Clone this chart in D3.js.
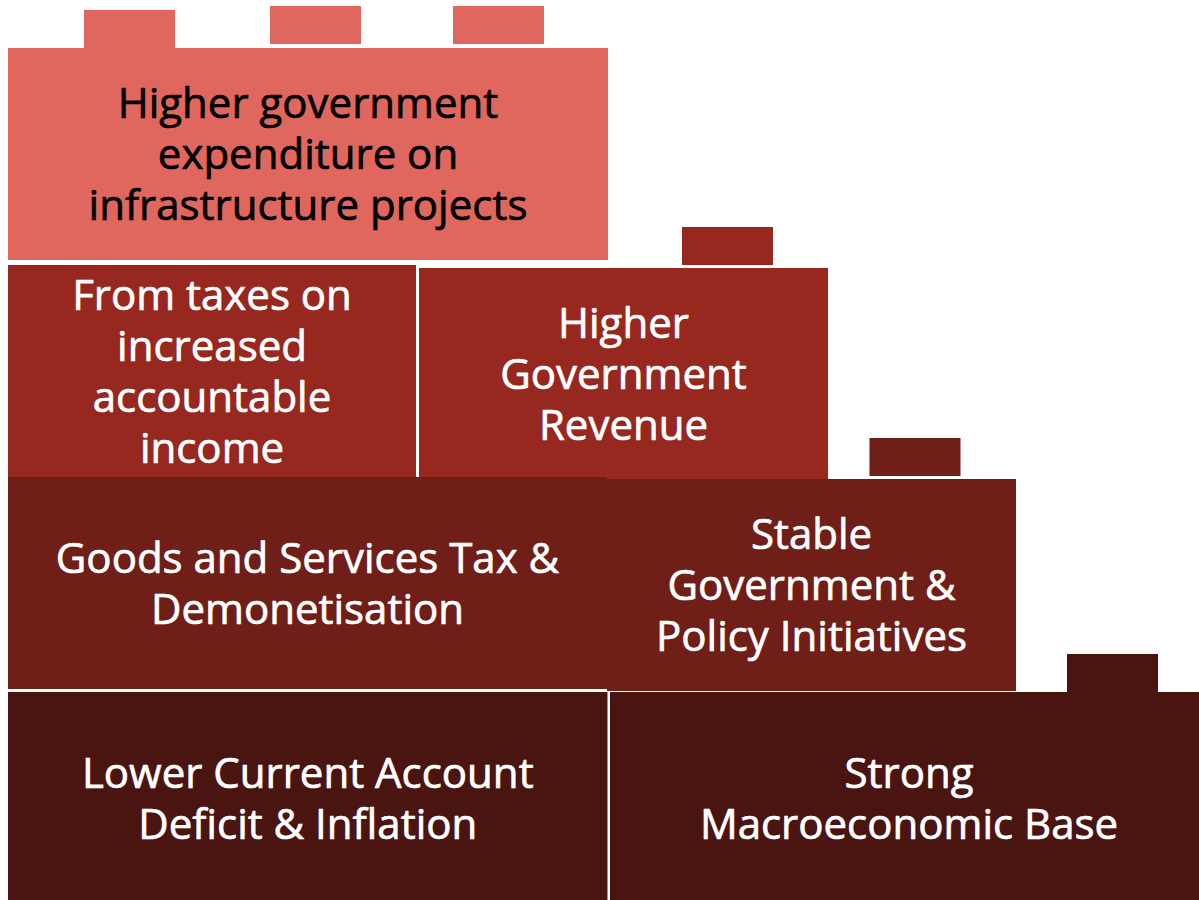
<!DOCTYPE html>
<html>
<head>
<meta charset="utf-8">
<script src="https://cdn.jsdelivr.net/npm/d3@7"></script>
<style>
  html, body { margin: 0; padding: 0; background: #ffffff; }
  svg { display: block; }
</style>
</head>
<body>
<svg id="chart" width="1199" height="900"></svg>
<script>
// Brick-wall diagram: each brick is a driver, stacked from the base upward.
const brickLabels = [
  ["Higher government", "expenditure on", "infrastructure projects"],
  ["From taxes on", "increased", "accountable", "income"],
  ["Higher", "Government", "Revenue"],
  ["Goods and Services Tax &", "Demonetisation"],
  ["Stable", "Government &", "Policy Initiatives"],
  ["Lower Current Account", "Deficit & Inflation"],
  ["Strong", "Macroeconomic Base"]
];
// Tier of each brick (0 = top of the wall)
const brickTier = [0, 1, 1, 2, 2, 3, 3];
// Horizontal extent of each brick, in stud units
const brickStart = [0, 0, 4.11, 0, 5.99, 0, 6.02];
const brickEnd   = [6, 4.08, 8.2, 5.99, 10.08, 5.995, 12];
// Small settling offset of each brick inside its tier, px
const brickDrop  = [0, 2.5, 5.5, 0, 2, 0.5, 0.5];

// Studs sitting on top of bricks
const studBrick  = [0, 0, 0, 2, 4, 6];
const studCenter = [1.215, 3.075, 4.905, 7.195, 9.07, 11.045];
const studLift   = [0, 4, 4, 3, 3, 0];

const tierFill = ["#e0675d", "#96281f", "#701e18", "#4a1411"];
const tierText = ["#000000", "#ffffff", "#ffffff", "#ffffff"];

const svg = d3.select("#chart");

const x = d3.scaleLinear().domain([0, 12]).range([8, 1208]);
const y = d3.scaleLinear().domain([0, 4]).range([48, 906]);
const brickHeight = 212;
const studWidth = 0.91;
const studHeight = 38;
const lineHeight = 51;
const fontSize = 42;

const bricks = brickLabels.map((lines, i) => ({
  lines,
  tier: brickTier[i],
  x0: brickStart[i],
  x1: brickEnd[i],
  top: y(brickTier[i]) + brickDrop[i]
}));

const studs = studCenter.map((c, i) => ({
  brick: bricks[studBrick[i]],
  c,
  lift: studLift[i]
}));

// studs
svg.append("g").selectAll("rect")
  .data(studs)
  .join("rect")
  .attr("x", d => x(d.c - studWidth / 2))
  .attr("width", d => x(d.c + studWidth / 2) - x(d.c - studWidth / 2))
  .attr("y", d => d.brick.top - d.lift - studHeight)
  .attr("height", studHeight)
  .attr("fill", d => tierFill[d.brick.tier]);

// bricks
const g = svg.append("g").selectAll("g")
  .data(bricks)
  .join("g");

g.append("rect")
  .attr("x", d => x(d.x0))
  .attr("width", d => x(d.x1) - x(d.x0))
  .attr("y", d => d.top)
  .attr("height", brickHeight)
  .attr("fill", d => tierFill[d.tier]);

// centred multi-line labels, slightly thickened strokes
g.append("text")
  .attr("text-anchor", "middle")
  .attr("font-family", "'Open Sans', 'Liberation Sans', sans-serif")
  .attr("font-size", fontSize)
  .attr("fill", d => tierText[d.tier])
  .attr("stroke", d => tierText[d.tier])
  .attr("stroke-width", 0.7)
  .attr("stroke-linejoin", "round")
  .each(function (d) {
    const cx = (x(d.x0) + x(d.x1)) / 2;
    const cy = d.top + brickHeight / 2;
    const n = d.lines.length;
    d3.select(this).selectAll("tspan")
      .data(d.lines)
      .join("tspan")
      .attr("x", cx)
      .attr("y", (t, i) => cy + (i - (n - 1) / 2) * lineHeight + fontSize * 0.36)
      .text(t => t);
  });
</script>
</body>
</html>
